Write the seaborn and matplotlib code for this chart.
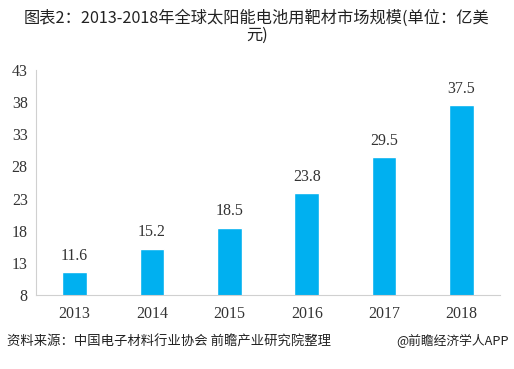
import matplotlib
matplotlib.use('Agg')
import matplotlib.pyplot as plt
import seaborn as sns
import pandas as pd

# 数据
years = ['2013', '2014', '2015', '2016', '2017', '2018']
market_size = [11.6, 15.2, 18.5, 23.8, 29.5, 37.5]
y_ticks = [8, 13, 18, 23, 28, 33, 38, 43]

title = '图表2：2013-2018年全球太阳能电池用靶材市场规模(单位：亿美\n元)'
source = '资料来源：中国电子材料行业协会 前瞻产业研究院整理'
brand = '@前瞻经济学人APP'

sns.set_style('white')
plt.rcParams['font.family'] = ['Noto Sans CJK SC', 'DejaVu Sans']

df = pd.DataFrame({'year': years, 'value': market_size})

fig = plt.figure(figsize=(5.14, 3.69), dpi=100)
ax = fig.add_axes([0.070, 0.2005, 0.903, 0.6095])

sns.barplot(data=df, x='year', y='value', color='#00B0F0', saturation=1,
            width=0.32, ax=ax)

ax.set_ylim(8, 43)
ax.set_yticks(y_ticks)
ax.set_xlabel('')
ax.set_ylabel('')
for lab in ax.get_xticklabels() + ax.get_yticklabels():
    lab.set_family('Liberation Serif')
    lab.set_fontsize(11.5)
    lab.set_color('#333333')
ax.tick_params(axis='y', direction='in', length=4, color='#d0d0d0', pad=6)
ax.tick_params(axis='x', length=0, pad=8)

for s in ['top', 'right']:
    ax.spines[s].set_visible(False)
for s in ['left', 'bottom']:
    ax.spines[s].set_color('#d0d0d0')
    ax.spines[s].set_linewidth(0.8)

for i, v in enumerate(market_size):
    ax.text(i, v + 1.3, f'{v}', ha='center', va='bottom', fontsize=11.5,
            family='Liberation Serif', color='#333333')

fig.text(0.5, 0.975, title, ha='center', va='top', fontsize=11.7,
         color='#222222', linespacing=1.0)
fig.text(0.014, 0.075, source, ha='left', va='center', fontsize=9.6,
         style='italic', color='#222222')
fig.text(0.99, 0.075, brand, ha='right', va='center', fontsize=9.2,
         color='#222222')

fig.savefig('out.png', dpi=100)
